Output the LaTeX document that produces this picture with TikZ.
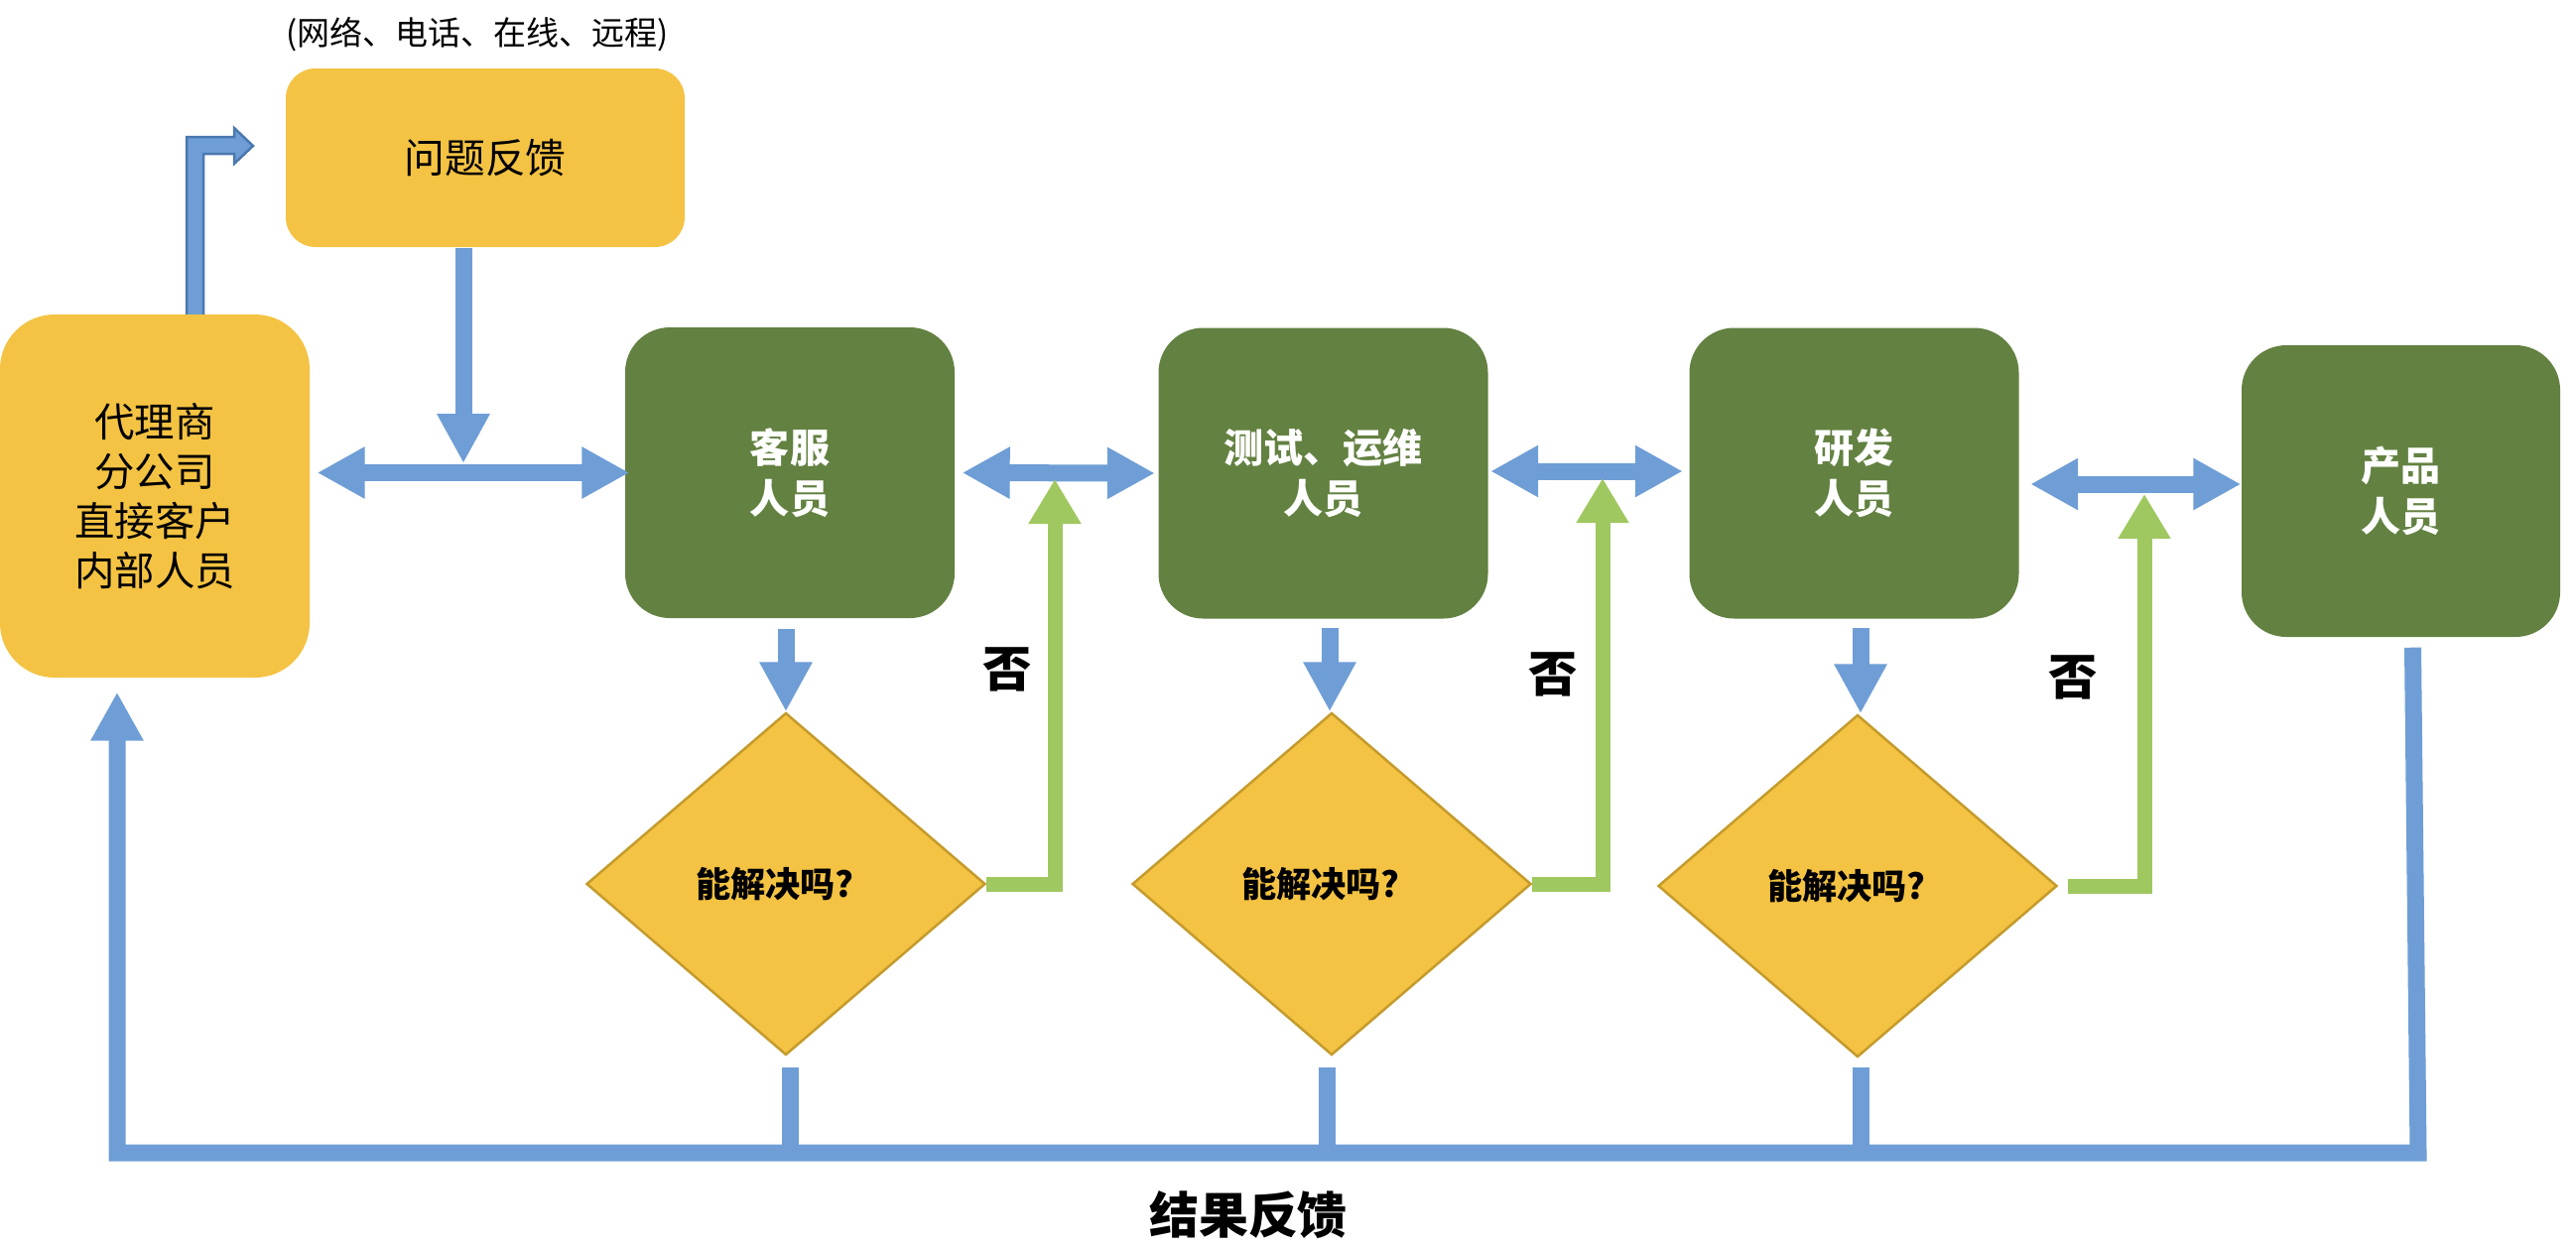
\documentclass[tikz,border=0pt]{standalone}
\usepackage{fontspec}
\setmainfont{Noto Sans CJK SC}
\usetikzlibrary{arrows.meta,calc,shapes.geometric}
\definecolor{cyellow}{HTML}{F4C343}
\definecolor{cgreen}{HTML}{638141}
\definecolor{cblue}{HTML}{6F9ED6}
\definecolor{clgreen}{HTML}{9FC860}
\definecolor{cdiam}{HTML}{C49B2C}
\definecolor{cbline}{HTML}{4A78B0}
\tikzset{
  ybox/.style={fill=cyellow, draw=none, rounded corners=3mm, inner sep=0pt, align=center},
  gbox/.style={fill=cgreen, draw=none, rounded corners=4.5mm, minimum width=33.2mm, minimum height=29.3mm,
    text=white, font=\bfseries\fontsize{11.4pt}{14.5pt}\selectfont, align=center, inner sep=0pt},
  dmd/.style={diamond, fill=cyellow, draw=cdiam, line width=0.25mm, minimum width=40.2mm, minimum height=34.5mm,
    inner sep=0pt, font=\bfseries\fontsize{10pt}{12pt}\selectfont},
  bluebar/.style={draw=cblue, line width=1.7mm, line join=miter},
  barrow/.style={bluebar, -{Triangle[length=5mm,width=5mm]}},
  dbarrow/.style={bluebar, {Triangle[length=4.8mm,width=4.9mm]}-{Triangle[length=4.8mm,width=4.9mm]}},
  garrow/.style={draw=clgreen, line width=1.5mm, line join=miter, -{Triangle[length=4.5mm,width=5mm]}},
  nolabel/.style={font=\bfseries\fontsize{14pt}{16pt}\selectfont},
}
\begin{document}
\begin{tikzpicture}[x=0.1mm,y=-0.1mm]
\useasboundingbox (0,0) rectangle (2596,1256);
\fill[white] (0,0) rectangle (2596,1256);

% bent arrow (client -> problem feedback)
\filldraw[fill=cblue, draw=cbline, line width=0.25mm, line join=miter]
  (188,330) -- (188,138) -- (236,138) -- (236,129) -- (255,147) -- (236,165) -- (236,155) -- (205,155) -- (205,330) -- cycle;

% nodes
\node[font=\fontsize{9.4pt}{11pt}\selectfont] (lbl) at (481,35) {(网络、电话、在线、远程)};
\node[ybox, minimum width=40.2mm, minimum height=18mm, font=\fontsize{11.6pt}{14pt}\selectfont] (wt) at (489,159) {问题反馈};
\node[ybox, rounded corners=5.5mm, minimum width=31.2mm, minimum height=36.6mm,
  font=\fontsize{11.5pt}{14.2pt}\selectfont] (client) at (156,500) {代理商\\分公司\\直接客户\\内部人员};

\node[gbox] (kf) at (796,476.5) {客服\\人员};
\node[gbox] (cs) at (1333.5,477) {测试、运维\\人员};
\node[gbox] (yf) at (1868.5,477) {研发\\人员};
\node[gbox, minimum width=32.1mm, minimum height=29.4mm] (cp) at (2419.5,495) {产品\\人员};

\node[dmd] (d1) at (792,891) {\hspace*{-2.2mm}能解决吗?};
\node[dmd] (d2) at (1342,891) {\hspace*{-2.2mm}能解决吗?};
\node[dmd] (d3) at (1872,893) {\hspace*{-2.2mm}能解决吗?};

\node[nolabel] (n1) at (1015,675) {否};
\node[nolabel] (n2) at (1565,680) {否};
\node[nolabel] (n3) at (2089,683) {否};

\node[font=\bfseries\fontsize{14.2pt}{16pt}\selectfont] (res) at (1258,1225) {结果反馈};

% horizontal double arrows
\draw[dbarrow] ($(client.east |- kf.west)+(7,0)$) -- ($(kf.west)+(5,0)$);
\draw[dbarrow] ($(kf.east)+(7,0)$) -- ($(cs.west)+(-3,0)$);
\draw[dbarrow] ($(cs.east)+(2,-2)$) -- ($(yf.west)+(-6,-2)$);
\draw[dbarrow] ($(yf.east)+(11,11)$) -- ($(cp.west)+(0,-7)$);

% problem feedback down arrow
\coordinate (j1) at (467,476);
\draw[barrow] (wt.south -| j1) -- ($(j1)+(0,-9)$);

% down arrows to diamonds
\draw[barrow] ($(kf.south -| d1.north)+(0,10)$) -- (d1.north);
\draw[barrow] ($(cs.south -| d2.north)+(-2,9)$) -- ($(d2.north)+(-2,0)$);
\draw[barrow] ($(yf.south -| d3.north)+(3,9)$) -- ($(d3.north)+(3,0)$);

% green "no" arrows
\coordinate (g1) at (1063,483);
\coordinate (g2) at (1615,482);
\coordinate (g3) at (2161,498);
\draw[garrow] (d1.east) -| (g1);
\draw[garrow] (d2.east) -| (g2);
\draw[garrow] ($(d3.east)+(10,0)$) -| (g3);

% result feedback
\coordinate (rR) at (2437,1162);
\coordinate (rL) at (118,1162);
\draw[bluebar, -{Triangle[length=4.9mm,width=5mm]}] ($(cp.south)+(12,10)$) -- (rR) -- (rL) -- ($(client.south)+(-38,14)$);
\coordinate (v1) at ($(d1.south)+(4,11)$);
\coordinate (v2) at ($(d2.south)+(-5,11)$);
\coordinate (v3) at ($(d3.south)+(3,9)$);
\draw[bluebar] (v1) -- (v1 |- rL);
\draw[bluebar] (v2) -- (v2 |- rL);
\draw[bluebar] (v3) -- (v3 |- rL);
\end{tikzpicture}
\end{document}
